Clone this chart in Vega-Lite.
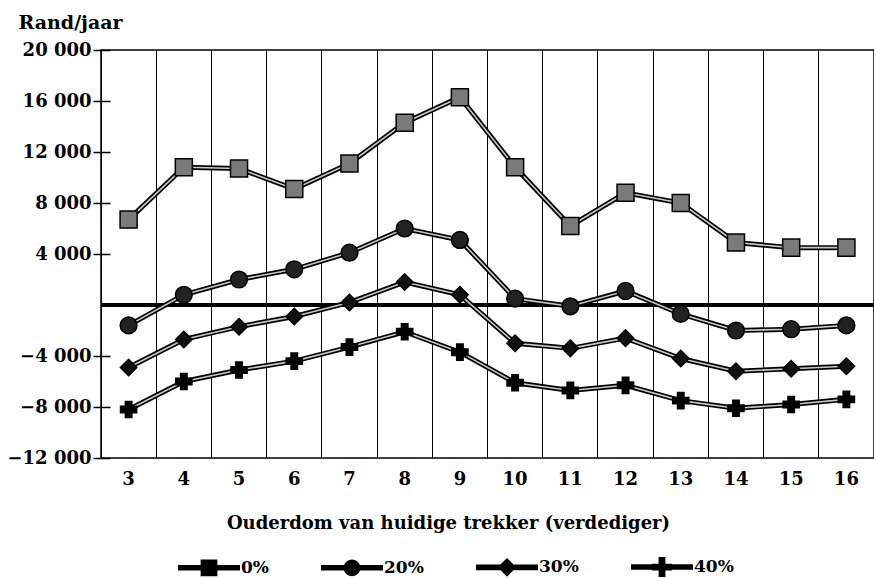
{
  "$schema": "https://vega.github.io/schema/vega-lite/v6.json",
  "width": 773,
  "height": 408,
  "autosize": {"type": "none"},
  "padding": {"left": 101, "top": 50, "right": 0, "bottom": 120},
  "background": "white",
  "config": {
    "font": "DejaVu Serif",
    "view": {"stroke": "black", "strokeWidth": 1.5},
    "axis": {"labelFont": "DejaVu Serif", "titleFont": "DejaVu Serif", "labelFontWeight": "bold", "titleFontWeight": "bold", "labelColor": "black", "titleColor": "black"}
  },
  "data": {
    "values": [
      {"age": 3, "series": "0%", "value": 6700}, {"age": 4, "series": "0%", "value": 10800}, {"age": 5, "series": "0%", "value": 10700}, {"age": 6, "series": "0%", "value": 9100}, {"age": 7, "series": "0%", "value": 11100}, {"age": 8, "series": "0%", "value": 14300}, {"age": 9, "series": "0%", "value": 16300}, {"age": 10, "series": "0%", "value": 10800}, {"age": 11, "series": "0%", "value": 6200}, {"age": 12, "series": "0%", "value": 8800}, {"age": 13, "series": "0%", "value": 8000}, {"age": 14, "series": "0%", "value": 4900}, {"age": 15, "series": "0%", "value": 4500}, {"age": 16, "series": "0%", "value": 4500},
      {"age": 3, "series": "20%", "value": -1600}, {"age": 4, "series": "20%", "value": 800}, {"age": 5, "series": "20%", "value": 2000}, {"age": 6, "series": "20%", "value": 2800}, {"age": 7, "series": "20%", "value": 4100}, {"age": 8, "series": "20%", "value": 6000}, {"age": 9, "series": "20%", "value": 5100}, {"age": 10, "series": "20%", "value": 500}, {"age": 11, "series": "20%", "value": -100}, {"age": 12, "series": "20%", "value": 1100}, {"age": 13, "series": "20%", "value": -700}, {"age": 14, "series": "20%", "value": -2000}, {"age": 15, "series": "20%", "value": -1900}, {"age": 16, "series": "20%", "value": -1600},
      {"age": 3, "series": "30%", "value": -4900}, {"age": 4, "series": "30%", "value": -2700}, {"age": 5, "series": "30%", "value": -1700}, {"age": 6, "series": "30%", "value": -900}, {"age": 7, "series": "30%", "value": 200}, {"age": 8, "series": "30%", "value": 1800}, {"age": 9, "series": "30%", "value": 800}, {"age": 10, "series": "30%", "value": -3000}, {"age": 11, "series": "30%", "value": -3400}, {"age": 12, "series": "30%", "value": -2600}, {"age": 13, "series": "30%", "value": -4200}, {"age": 14, "series": "30%", "value": -5200}, {"age": 15, "series": "30%", "value": -5000}, {"age": 16, "series": "30%", "value": -4800},
      {"age": 3, "series": "40%", "value": -8200}, {"age": 4, "series": "40%", "value": -6000}, {"age": 5, "series": "40%", "value": -5100}, {"age": 6, "series": "40%", "value": -4400}, {"age": 7, "series": "40%", "value": -3300}, {"age": 8, "series": "40%", "value": -2100}, {"age": 9, "series": "40%", "value": -3700}, {"age": 10, "series": "40%", "value": -6100}, {"age": 11, "series": "40%", "value": -6700}, {"age": 12, "series": "40%", "value": -6300}, {"age": 13, "series": "40%", "value": -7500}, {"age": 14, "series": "40%", "value": -8100}, {"age": 15, "series": "40%", "value": -7800}, {"age": 16, "series": "40%", "value": -7400}
    ]
  },
  "encoding": {
    "x": {
      "field": "age", "type": "ordinal",
      "scale": {"type": "band", "paddingInner": 0, "paddingOuter": 0},
      "axis": {
        "title": "Ouderdom van huidige trekker (verdediger)",
        "titleFontSize": 18, "titleX": 347, "titleY": 65, "titleBaseline": "middle", "titleAlign": "center",
        "labelFontSize": 18, "labelAngle": 0, "labelPadding": 12,
        "ticks": false, "domain": false,
        "grid": true, "gridColor": "black", "gridWidth": 1, "gridOpacity": 1, "bandPosition": 0
      }
    },
    "y": {
      "field": "value", "type": "quantitative",
      "scale": {"domain": [-12000, 20000], "nice": false, "zero": false},
      "axis": {
        "title": "Rand/jaar", "titleFontSize": 19, "titleAngle": 0, "titleX": -92, "titleY": -22, "titleAlign": "left", "titleBaseline": "alphabetic",
        "values": [-12000, -8000, -4000, 4000, 8000, 12000, 16000, 20000],
        "labelExpr": "replace(format(datum.value, ','), ',', ' ')",
        "labelFontSize": 18, "labelPadding": 2, "tickSize": 17, "offset": -9, "tickColor": "black", "tickWidth": 1.5,
        "domain": false, "grid": false
      }
    }
  },
  "layer": [
    {
      "mark": {"type": "rule", "stroke": "black", "strokeWidth": 4},
      "encoding": {"y": {"datum": 0}, "x": {"value": 0}, "x2": {"value": 773}}
    },
    {
      "mark": {"type": "line", "stroke": "black", "strokeWidth": 5},
      "encoding": {"detail": {"field": "series"}}
    },
    {
      "mark": {"type": "line", "stroke": "#c8c8c8", "strokeWidth": 1.6},
      "encoding": {"detail": {"field": "series"}}
    },
    {
      "mark": {"type": "point", "filled": true, "stroke": "black", "strokeWidth": 1.5, "opacity": 1},
      "encoding": {
        "shape": {"field": "series", "type": "nominal", "scale": {"domain": ["0%", "20%", "30%", "40%"], "range": ["square", "circle", "diamond", "cross"]}, "legend": null},
        "fill": {"field": "series", "type": "nominal", "scale": {"domain": ["0%", "20%", "30%", "40%"], "range": ["#7a7a7a", "#222222", "#111111", "#000000"]}, "legend": null},
        "size": {"field": "series", "type": "nominal", "scale": {"domain": ["0%", "20%", "30%", "40%"], "range": [290, 260, 250, 450]}, "legend": null}
      }
    },
    {
      "mark": {"type": "point", "filled": true, "color": "black", "opacity": 0},
      "encoding": {
        "shape": {
          "field": "series", "type": "nominal",
          "scale": {"domain": ["0%", "20%", "30%", "40%"], "range": [
            "M-1,-0.09H1V0.09H-1Z M-0.27,-0.27H0.27V0.27H-0.27Z",
            "M-1,-0.09H1V0.09H-1Z M-0.27,0A0.27,0.27 0 1,1 0.27,0A0.27,0.27 0 1,1 -0.27,0Z",
            "M-1,-0.09H1V0.09H-1Z M0,-0.3L0.3,0L0,0.3L-0.3,0Z",
            "M-1,-0.09H1V0.09H-1Z M-0.11,-0.32H0.11V-0.11H0.32V0.11H0.11V0.32H-0.11V0.11H-0.32V-0.11H-0.11Z"
          ]},
          "legend": {
            "title": null, "orient": "none", "direction": "horizontal", "legendX": 77, "legendY": 486,
            "padding": 0, "symbolSize": 3844, "symbolOpacity": 1, "symbolFillColor": "black", "symbolStrokeColor": "black", "symbolStrokeWidth": 0,
            "labelFont": "DejaVu Serif", "labelFontSize": 17, "labelFontWeight": "bold", "labelColor": "black", "labelOffset": 1,
            "columnPadding": 52, "rowPadding": 0
          }
        }
      }
    }
  ],
  "resolve": {"scale": {"shape": "independent"}, "legend": {"shape": "independent"}}
}
